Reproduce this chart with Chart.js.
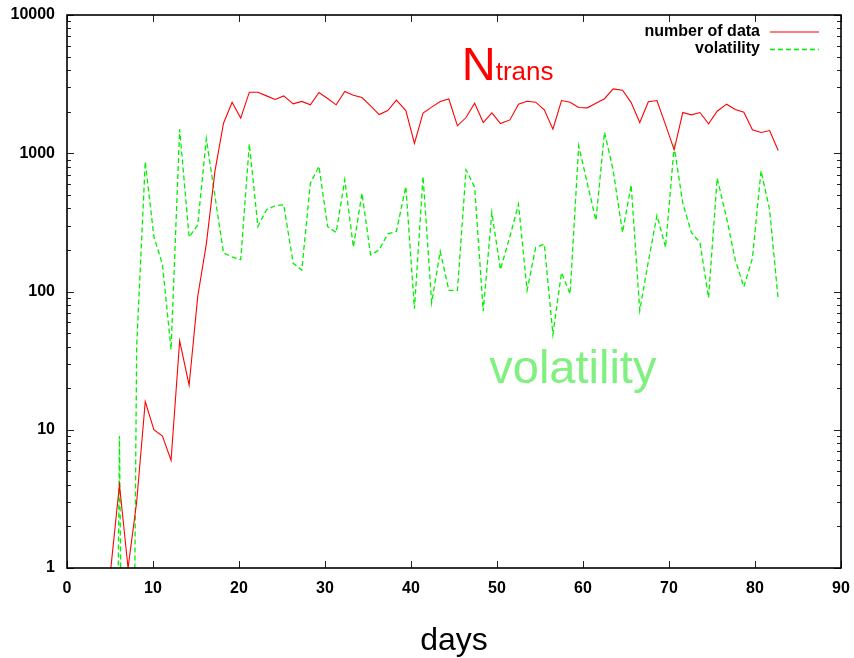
<!DOCTYPE html>
<html><head><meta charset="utf-8">
<script src="https://cdn.jsdelivr.net/npm/chart.js@4/dist/chart.umd.min.js"></script>
<style>html,body{margin:0;padding:0;background:#fff}#wrap{width:854px;height:658px}</style>
</head><body><div id="wrap"><canvas id="c" width="854" height="658"></canvas></div>
<script>
// ---- data ----
const days = [5.1,6.1,7.1,8.1,9.1,10.1,11.1,12.1,13.1,14.2,15.2,16.2,17.2,18.2,19.2,20.2,21.2,22.2,23.2,24.2,
  25.2,26.3,27.3,28.3,29.3,30.3,31.3,32.3,33.3,34.3,35.3,36.3,37.3,38.3,39.4,40.4,41.4,42.4,43.4,44.4,
  45.4,46.4,47.4,48.4,49.4,50.4,51.5,52.5,53.5,54.5,55.5,56.5,57.5,58.5,59.5,60.5,61.5,62.5,63.5,64.6,
  65.6,66.6,67.6,68.6,69.6,70.6,71.6,72.6,73.6,74.6,75.6,76.7,77.7,78.7,79.7,80.7,81.7,82.7];
const numberOfData = [1,4,1,3,16,10,9,6,44,21,92,220,740,1650,2340,1795,2765,2765,2600,2450,
  2600,2275,2370,2240,2750,2490,2240,2800,2630,2530,2200,1905,2035,2420,2035,1180,1950,2155,2365,2470,
  1578,1813,2300,1667,1960,1640,1743,2265,2380,2340,2060,1494,2405,2340,2140,2130,2300,2480,2920,2860,
  2325,1667,2355,2405,1605,1058,1970,1895,1970,1632,2015,2265,2070,1982,1477,1412,1460,1047];
const volatility = [1e-6,9,1e-6,40,870,250,157,38,1490,247,303,1271,490,190,178,170,1170,295,390,417,
  424,160,143,608,805,295,267,643,209,514,184,200,261,272,574,75,679,83,195,102,
  102,759,569,72,373,144,250,429,102,208,220,49,137,96,1132,608,326,1420,759,267,
  591,73,165,355,209,1119,436,267,226,90,661,340,170,108,174,746,390,87];
const seriesLabels = ['number of data','volatility'];
const xTickLabels = [0,10,20,30,40,50,60,70,80,90];
const yTickLabels = [1,10,100,1000,10000];
const yMinorSteps = [2,3,4,5,6,7,8,9];
const annotationN = {main:'N', sub:'trans', day:45.9, value:3400};
const annotationVol = {text:'volatility', day:49.1, value:21.9};

const FONT = "'Liberation Sans', Arial, sans-serif";
const RED = '#ff0000', GREEN = '#00f000', GREEN_TEXT = '#80f080';

const yAllTicks = [];
yTickLabels.forEach((v, i) => {
  yAllTicks.push(v);
  if (i < yTickLabels.length - 1) yMinorSteps.forEach(m => yAllTicks.push(v * m));
});

const toPoints = arr => arr.map((v, i) => ({x: days[i], y: v}));

const decor = {
  id: 'decor',
  afterDatasetsDraw(chart) {
    const {ctx, chartArea: a, scales: {x, y}} = chart;
    ctx.save();
    ctx.strokeStyle = '#222'; ctx.lineWidth = 1;
    ctx.beginPath();
    xTickLabels.forEach(v => {
      const px = Math.round(x.getPixelForValue(v)) + 0.5;
      ctx.moveTo(px, a.bottom); ctx.lineTo(px, a.bottom - 7);
      ctx.moveTo(px, a.top); ctx.lineTo(px, a.top + 7);
    });
    yAllTicks.forEach(v => {
      const py = Math.round(y.getPixelForValue(v)) + 0.5;
      const len = yTickLabels.includes(v) ? 7 : 4;
      ctx.moveTo(a.left, py); ctx.lineTo(a.left + len, py);
      ctx.moveTo(a.right, py); ctx.lineTo(a.right - len, py);
    });
    ctx.stroke();
    ctx.strokeStyle = '#000'; ctx.lineWidth = 1.6;
    ctx.strokeRect(a.left, a.top, a.right - a.left, a.bottom - a.top);
    ctx.font = 'bold 16px ' + FONT;
    ctx.textAlign = 'right'; ctx.textBaseline = 'middle'; ctx.fillStyle = '#000';
    chart.data.datasets.forEach((ds, i) => {
      const ly = a.top + 16.5 + i * 17.5;
      ctx.fillText(ds.label, a.right - 81, ly);
      ctx.strokeStyle = ds.borderColor; ctx.lineWidth = ds.borderWidth;
      ctx.setLineDash(ds.borderDash || []);
      ctx.beginPath(); ctx.moveTo(a.right - 71, ly + 0.5); ctx.lineTo(a.right - 22, ly + 0.5); ctx.stroke();
      ctx.setLineDash([]);
    });
    ctx.textAlign = 'left'; ctx.textBaseline = 'alphabetic';
    let ax = x.getPixelForValue(annotationN.day), ay = y.getPixelForValue(annotationN.value);
    ctx.fillStyle = RED;
    ctx.font = '47px ' + FONT;
    ctx.fillText(annotationN.main, ax, ay);
    const w = ctx.measureText(annotationN.main).width;
    ctx.font = '26px ' + FONT;
    ctx.fillText(annotationN.sub, ax + w, ay);
    ax = x.getPixelForValue(annotationVol.day); ay = y.getPixelForValue(annotationVol.value);
    ctx.fillStyle = GREEN_TEXT;
    ctx.font = '47px ' + FONT;
    ctx.fillText(annotationVol.text, ax, ay);
    ctx.restore();
  }
};

new Chart(document.getElementById('c'), {
  type: 'line',
  data: {
    datasets: [
      {label: seriesLabels[0], data: toPoints(numberOfData), borderColor: RED, borderWidth: 1.1,
       pointRadius: 0, tension: 0, fill: false},
      {label: seriesLabels[1], data: toPoints(volatility), borderColor: GREEN, borderWidth: 1.3,
       borderDash: [5, 3], pointRadius: 0, tension: 0, fill: false}
    ]
  },
  options: {
    responsive: false, animation: false, devicePixelRatio: 1,
    layout: {padding: {top: 15, right: 13, left: 0, bottom: 0}},
    plugins: {legend: {display: false}, tooltip: {enabled: false}},
    scales: {
      x: {
        type: 'linear', min: 0, max: 90,
        afterBuildTicks: s => { s.ticks = xTickLabels.map(v => ({value: v})); },
        afterFit: s => { s.height = 90; s.paddingLeft = 0; s.paddingRight = 0; },
        grid: {display: false, drawTicks: false}, border: {display: false},
        ticks: {color: '#000', font: {family: FONT, size: 16, weight: 'bold'}, padding: 11, maxRotation: 0},
        title: {display: true, text: 'days', color: '#000', font: {family: FONT, size: 32, weight: 'normal'}, padding: {top: 0, bottom: -2}}
      },
      y: {
        type: 'logarithmic', min: 1, max: 10000,
        afterBuildTicks: s => { s.ticks = yAllTicks.map(v => ({value: v, major: yTickLabels.includes(v)})); },
        afterFit: s => { s.width = 67; s.paddingTop = 0; s.paddingBottom = 0; },
        grid: {display: false, drawTicks: false}, border: {display: false},
        ticks: {color: '#000', font: {family: FONT, size: 16, weight: 'bold'}, padding: 12, autoSkip: false,
          callback: v => yTickLabels.includes(v) ? String(v) : ''}
      }
    }
  },
  plugins: [decor]
});
</script></body></html>
